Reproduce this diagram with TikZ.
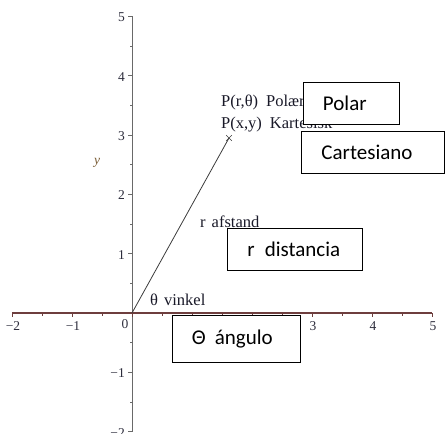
\documentclass[tikz,border=0pt]{standalone}
\usepackage{fontspec}
\setmainfont{Liberation Serif}
\newfontfamily\carl{Carlito}
\usetikzlibrary{shapes.misc}
\definecolor{xax}{RGB}{110,62,62}
\definecolor{yax}{RGB}{105,105,105}
\definecolor{lbl}{RGB}{45,45,60}
\definecolor{ylab}{RGB}{120,90,50}
\definecolor{seg}{RGB}{60,60,60}
\definecolor{labc}{RGB}{25,25,40}
\begin{document}
\begin{tikzpicture}[x=1pt,y=-1pt,
  box/.style={draw=black, line width=0.9pt, fill=white, anchor=north west,
    inner xsep=20pt, inner ysep=0pt, align=left,
    font=\carl\fontsize{21}{25}\selectfont},
  lab/.style={anchor=base west, inner sep=0pt, font=\fontsize{16.5}{19}\selectfont, text=labc},
  ticklab/.style={font=\fontsize{13.5}{16}\selectfont, text=lbl, inner sep=0pt}]
\useasboundingbox (0,0) rectangle (445,434);
% y axis
\coordinate (yt) at (132,16);
\coordinate (yb) at (132,432);
\coordinate (O) at (132,313);
\draw[yax, line width=1pt] (yt) -- (yb);
\foreach \i in {-2,...,5} {\draw[yax, line width=0.8pt] (132,313-59.3*\i) -- ++(-4.5,0);}
\foreach \i in {-2,...,4} {\draw[yax, line width=0.7pt] (132,313-59.3*\i-29.65) -- ++(-2.5,0);}
% x axis
\coordinate (xl) at (12,313);
\coordinate (xr) at (432,313);
\draw[xax, line width=1.2pt] (xl) -- (xr);
\foreach \i in {-2,...,5} {\draw[xax, line width=0.8pt] (132+60*\i,313) -- ++(0,4);}
\foreach \i in {-2,...,4} {\draw[xax, line width=0.7pt] (162+60*\i,313) -- ++(0,2.5);}
% tick labels
\foreach \i/\t/\n in {-2/−2/xm2, -1/−1/xm1, 3/3/xp3, 4/4/xp4, 5/5/xp5}
  {\node[ticklab] (\n) at (132+60*\i+1,326) {\t};}
\node[ticklab] (x0) at (125,324) {0};
\foreach \i/\t/\n in {5/5/yp5, 4/4/yp4, 3/3/yp3, 2/2/yp2, 1/1/yp1, -1/−1/ym1, -2/−2/ym2}
  {\node[ticklab, anchor=east] (\n) at (125,313-59.3*\i+1) {\t};}
\node[font=\itshape\fontsize{13.5}{16}\selectfont, text=ylab, inner sep=0pt] (ylabel) at (97,163) {y};
% segment and point
\node[cross out, draw=seg, minimum size=5pt, inner sep=0pt, line width=0.7pt] (P) at (229,138) {};
\draw[seg, line width=0.8pt] (O) -- (P.center);
% labels
\node[lab] (lpol) at (221,106.5) {P(r,θ)\hspace{8pt}Polær};
\node[lab] (lkar) at (221,128) {P(x,y)\hspace{8pt}Kartesisk};
\node[lab] (lr) at (200,227.5) {r\hspace{6pt}afstand};
\node[lab] (lth) at (150,305) {θ\hspace{6pt}vinkel};
% boxes
\node[box, text width=56.5pt, minimum height=42pt] (polar) at (302.5,81.5) {Polar};
\node[box, text width=103pt, minimum height=42pt] (cart) at (301,131) {Cartesiano};
\node[box, text width=95pt, minimum height=42pt] (dist) at (227,228) {r\hspace{10pt}distancia};
\node[box, text width=88pt, minimum height=47pt] (ang) at (171.5,315) {Θ\hspace{9pt}ángulo};
\end{tikzpicture}
\end{document}
